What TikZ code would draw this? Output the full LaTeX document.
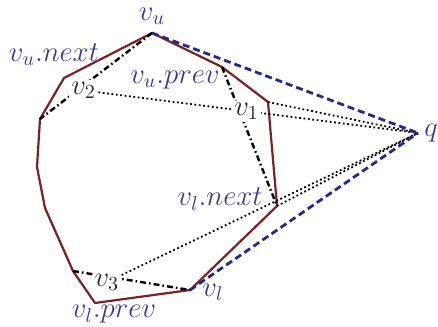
\documentclass[tikz,border=0pt]{standalone}
\usepackage{tikz}
\usetikzlibrary{positioning, calc, backgrounds}
\definecolor{marronPoligono}{HTML}{7A2323}
\definecolor{azulTangente}{HTML}{232A8C}
\definecolor{azulEtiqueta}{HTML}{3A3A96}
\definecolor{grisOscuro}{HTML}{2A2A2A}
\tikzset{
  ladoPoligono/.style={draw=marronPoligono, line width=1.1pt, line join=round},
  tangente/.style={draw=azulTangente, line width=1.4pt, dash pattern=on 3.5pt off 2pt},
  cuerda/.style={draw=black, line width=1.2pt, dash pattern=on 3pt off 1.5pt on 0.8pt off 1.5pt},
  rayo/.style={draw=black, line width=0.9pt, dash pattern=on 0.9pt off 1.3pt},
  etiquetaVertice/.style={font=\Large, text=azulEtiqueta, inner sep=3pt},
  etiquetaPunto/.style={font=\Large, text=grisOscuro, fill=white, inner sep=1pt},
}

\begin{document}
\begin{tikzpicture}[x=0.5pt, y=-0.5pt]
    \useasboundingbox (0,0) rectangle (438,326);
    % vertices of the hull and the query point
    \coordinate (vu) at (152,33);
    \coordinate (vuprev) at (222,67);
    \coordinate (vm) at (268,102);
    \coordinate (vlnext) at (277,206);
    \coordinate (vl) at (190,290);
    \coordinate (vlprev) at (95,303);
    \coordinate (w1) at (73,271);
    \coordinate (w2) at (45,208);
    \coordinate (w3) at (37,167);
    \coordinate (w4) at (40,119);
    \coordinate (vunext) at (64,78);
    \coordinate (q) at (418,133);
    % points on the chords
    \node[etiquetaPunto] (v1) at ($(vuprev)!0.32!(vlnext)$) [xshift=3.5pt] {$v_1$};
    \node[etiquetaPunto] (v2) at ($(vu)!0.61!(w4)$) [yshift=-2.5pt] {$v_2$};
    \node[etiquetaPunto] (v3) at ($(w1)!0.29!(vl)$) [yshift=-2.8pt] {$v_3$};
    % labels
    \node[etiquetaVertice, above=1pt of vu] (etqVu) {$v_u$};
    \node[etiquetaVertice, above=3pt of vunext, xshift=-5pt] (etqVuNext) {$v_u.next$};
    \node[etiquetaVertice, left=-2pt of vuprev, yshift=-6.5pt] (etqVuPrev) {$v_u.prev$};
    \node[etiquetaVertice, left=4pt of vlnext, yshift=3.5pt] (etqVlNext) {$v_l.next$};
    \node[etiquetaVertice, right=3pt of vl, yshift=-1pt] (etqVl) {$v_l$};
    \node[etiquetaVertice, below=-2pt of vlprev, xshift=9.5pt] (etqVlPrev) {$v_l.prev$};
    \node[etiquetaVertice, right=0pt of q] (etqQ) {$q$};
    \begin{scope}[on background layer]
      \draw[ladoPoligono] (vu) -- (vuprev) -- (vm) -- (vlnext) -- (vl) -- (vlprev)
        -- (w1) -- (w2) -- (w3) -- (w4) -- (vunext) -- cycle;
      \draw[cuerda] (vu) -- (w4);
      \draw[cuerda] (vuprev) -- (vlnext);
      \draw[cuerda] (w1) -- (vl);
      \draw[rayo] (v2) -- (q);
      \draw[rayo] (vm) -- (q);
      \draw[rayo] (vlnext) -- (q);
      \draw[rayo] (v3) -- (q);
      \draw[tangente] (vu) -- (q);
      \draw[tangente] (vl) -- (q);
    \end{scope}
  \end{tikzpicture}
\end{document}
